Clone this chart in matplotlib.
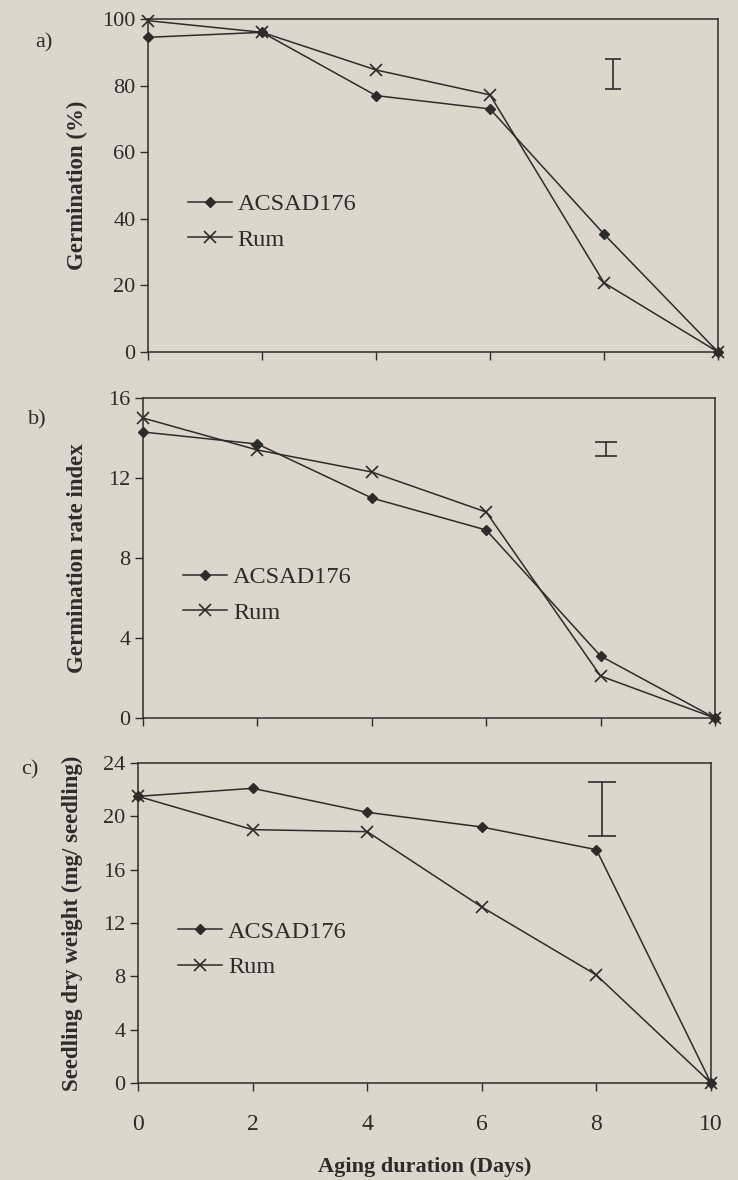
import matplotlib
matplotlib.use("Agg")
import matplotlib.pyplot as plt

# ---- data ----
days = [0, 2, 4, 6, 8, 10]
germ_acsad = [94.5, 96, 77, 73, 35.4, 0]
germ_rum = [99.5, 96, 84.7, 77.2, 20.8, 0]
gri_acsad = [14.3, 13.7, 11.0, 9.4, 3.1, 0]
gri_rum = [15.0, 13.4, 12.3, 10.3, 2.1, 0]
sdw_acsad = [21.5, 22.1, 20.3, 19.2, 17.5, 0]
sdw_rum = [21.5, 19.0, 18.85, 13.2, 8.1, 0]
series_names = ["ACSAD176", "Rum"]
panel_tags = ["a)", "b)", "c)"]
ylabels = ["Germination (%)", "Germination rate index", "Seedling dry weight (mg/ seedling)"]
yticks_list = [[0, 20, 40, 60, 80, 100], [0, 4, 8, 12, 16], [0, 4, 8, 12, 16, 20, 24]]
lsd_x = [8.15, 8.1, 8.1]
lsd_center = [83.5, 13.45, 20.55]
lsd_half = [4.5, 0.35, 2.05]
xlabel = "Aging duration (Days)"

BG = "#dcd6cd"
INK = "#2e2c2a"
SERIF = ["Liberation Serif", "DejaVu Serif"]
plt.rcParams["font.family"] = SERIF

fig = plt.figure(figsize=(7.38, 11.8), dpi=100, facecolor=BG)

positions = [
    [0.2005, 0.7017, 0.7724, 0.2822],
    [0.1938, 0.3915, 0.7750, 0.2712],
    [0.1870, 0.0822, 0.7764, 0.2712],
]
data = [(germ_acsad, germ_rum), (gri_acsad, gri_rum), (sdw_acsad, sdw_rum)]
legend_anchor = [(0.07, 0.39), (0.07, 0.384), (0.07, 0.417)]
ylabel_x = [-0.105, -0.096, -0.096]
capsizes = [6, 8, 10]
tag_pos = [(35, 43), (28, 420), (21, 770)]

for i in range(3):
    ax = fig.add_axes(positions[i])
    ax.set_facecolor(BG)
    a_vals, r_vals = data[i]
    ax.plot(days, a_vals, color=INK, lw=1.1, marker="D", ms=5,
            mfc=INK, mec=INK, label=series_names[0], clip_on=False, zorder=3)
    ax.plot(days, r_vals, color=INK, lw=1.1, marker="x", ms=8, mew=1.2,
            label=series_names[1], clip_on=False, zorder=3)
    ax.errorbar([lsd_x[i]], [lsd_center[i]], yerr=[lsd_half[i]], fmt="none",
                ecolor=INK, elinewidth=1.2, capsize=capsizes[i], capthick=1.2)
    ax.set_xlim(0, 10)
    ax.set_ylim(yticks_list[i][0], yticks_list[i][-1])
    ax.set_yticks(yticks_list[i])
    ax.set_xticks(days)
    for s in ax.spines.values():
        s.set_color(INK)
        s.set_linewidth(1.1)
    ax.tick_params(axis="both", direction="out", length=6, width=1.0,
                   colors=INK, labelsize=16)
    ax.tick_params(axis="y", pad=3)
    if i < 2:
        ax.tick_params(axis="x", labelbottom=False)
    else:
        ax.tick_params(axis="x", pad=16, labelsize=17)
        ax.set_xlabel(xlabel, fontsize=16, fontweight="bold", color=INK, labelpad=16)
    ax.set_ylabel(ylabels[i], fontsize=16.5, fontweight="bold", color=INK)
    ax.yaxis.set_label_coords(ylabel_x[i], 0.5)
    leg = ax.legend(loc="center left", bbox_to_anchor=legend_anchor[i],
                    frameon=False, fontsize=17.5, handlelength=1.8,
                    handletextpad=0.25, labelspacing=0.55,
                    borderaxespad=0, borderpad=0)
    for t in leg.get_texts():
        t.set_color(INK)
    fig.text(tag_pos[i][0] / 738, 1 - tag_pos[i][1] / 1180, panel_tags[i],
             fontsize=16, color=INK, ha="left", va="center")

fig.savefig("out.png", dpi=100, facecolor=BG)
